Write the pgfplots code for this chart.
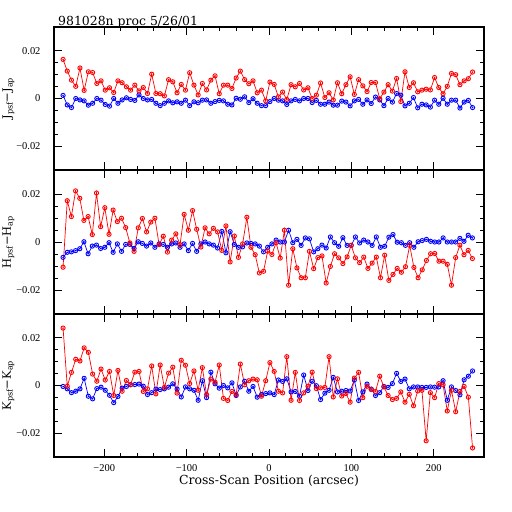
\documentclass[border=0pt]{standalone}
\usepackage{fontspec}
\setmainfont{DejaVu Serif}
\newfontfamily\tickfont{Liberation Serif}
\usepackage{pgfplots}
\usepackage{pgfplotstable}
\pgfplotsset{compat=1.18}

\pgfplotstableread{
x r b
-250 0.0164 0.0013
-244.9 0.0115 -0.0027
-239.8 0.0077 -0.0038
-234.6 0.0051 0.0000
-229.5 0.0128 -0.0006
-224.4 0.0034 -0.0010
-219.3 0.0112 -0.0028
-214.1 0.0109 -0.0020
-209 0.0063 0.0000
-203.9 0.0074 -0.0007
-198.8 0.0035 -0.0025
-193.6 0.0045 -0.0032
-188.5 0.0025 0.0000
-183.4 0.0074 -0.0020
-178.3 0.0066 -0.0006
-173.1 0.0049 0.0003
-168 0.0035 -0.0004
-162.9 0.0056 -0.0008
-157.8 0.0032 0.0015
-152.6 0.0046 0.0000
-147.5 0.0021 -0.0006
-142.4 0.0102 -0.0004
-137.3 0.0021 -0.0020
-132.1 0.0020 -0.0030
-127 0.0011 -0.0020
-121.9 0.0079 -0.0010
-116.8 0.0070 -0.0018
-111.6 0.0024 -0.0014
-106.5 0.0059 -0.0020
-101.4 0.0035 -0.0007
-96.3 0.0108 -0.0030
-91.1 0.0056 -0.0014
-86 0.0015 -0.0018
-80.9 0.0063 -0.0007
-75.8 0.0036 -0.0006
-70.6 0.0077 -0.0020
-65.5 0.0095 -0.0013
-60.4 0.0020 -0.0008
-55.3 0.0056 -0.0010
-50.1 0.0056 -0.0024
-45 0.0042 -0.0027
-39.9 0.0086 0.0001
-34.8 0.0115 -0.0003
-29.6 0.0079 0.0007
-24.5 0.0062 -0.0017
-19.4 0.0074 -0.0001
-14.3 0.0024 -0.0020
-9.1 0.0035 -0.0030
-4 -0.0010 -0.0030
1.1 0.0069 -0.0013
6.3 0.0059 0.0000
11.4 0.0007 -0.0007
16.5 0.0027 -0.0010
21.6 -0.0004 -0.0025
26.8 0.0058 -0.0010
31.9 0.0049 -0.0004
37 0.0063 -0.0010
42.1 0.0036 0.0000
47.3 0.0045 0.0000
52.4 0.0000 -0.0017
57.5 0.0014 -0.0008
62.6 0.0065 -0.0024
67.8 0.0004 -0.0024
72.9 0.0024 -0.0015
78 -0.0006 -0.0028
83.1 0.0066 -0.0028
88.3 0.0020 -0.0011
93.4 0.0058 -0.0015
98.5 0.0091 -0.0031
103.6 0.0017 -0.0010
108.8 0.0079 -0.0004
113.9 0.0053 -0.0024
119 0.0029 -0.0006
124.1 0.0067 -0.0021
129.3 0.0067 0.0006
134.4 -0.0001 -0.0006
139.5 0.0027 -0.0030
144.6 0.0058 0.0000
149.8 0.0031 -0.0015
154.9 0.0084 0.0021
160 -0.0013 0.0014
165.1 0.0112 -0.0031
170.3 0.0046 -0.0020
175.4 0.0066 0.0004
180.5 0.0028 -0.0039
185.6 0.0035 -0.0024
190.8 0.0039 -0.0027
195.9 0.0036 -0.0036
201 0.0088 -0.0007
206.1 0.0046 -0.0024
211.3 0.0020 0.0001
216.4 0.0051 -0.0024
221.5 0.0105 -0.0007
226.6 0.0100 -0.0007
231.8 0.0058 -0.0040
236.9 0.0074 -0.0015
242 0.0083 -0.0008
247.1 0.0111 -0.0038
}\topdata

\pgfplotstableread{
x r b
-250.0 -0.0105 -0.0064
-244.9 0.0172 -0.0043
-239.9 0.0106 -0.0041
-234.8 0.0213 -0.0036
-229.7 0.0182 -0.0028
-224.7 0.0090 0.0001
-219.6 0.0106 -0.0049
-214.5 0.0031 -0.0017
-209.4 0.0204 -0.0013
-204.4 0.0064 -0.0027
-199.3 0.0143 -0.0022
-194.2 0.0032 -0.0003
-189.2 0.0133 -0.0043
-184.1 0.0085 -0.0008
-179.0 0.0099 -0.0039
-174.0 0.0060 -0.0010
-168.9 -0.0004 -0.0010
-163.8 -0.0039 -0.0027
-158.7 0.0059 0.0001
-153.7 0.0098 -0.0006
-148.6 0.0042 -0.0017
-143.5 0.0083 -0.0004
-138.5 0.0099 -0.0022
-133.4 -0.0011 -0.0008
-128.3 0.0024 -0.0010
-123.3 -0.0042 -0.0022
-118.2 0.0008 -0.0008
-113.1 0.0034 -0.0004
-108.0 -0.0011 -0.0022
-103.0 0.0115 -0.0008
-97.9 0.0049 -0.0036
-92.8 0.0131 -0.0006
-87.8 0.0053 -0.0039
-82.7 -0.0021 -0.0008
-77.6 0.0059 0.0000
-72.6 0.0034 -0.0008
-67.5 0.0057 -0.0013
-62.4 0.0042 -0.0025
-57.3 -0.0035 0.0044
-52.3 0.0067 -0.0045
-47.2 -0.0083 0.0043
-42.1 0.0025 -0.0010
-37.1 -0.0064 -0.0022
-32.0 -0.0008 -0.0020
-26.9 0.0103 -0.0004
-21.9 -0.0022 -0.0006
-16.8 -0.0053 -0.0008
-11.7 -0.0129 -0.0017
-6.6 -0.0122 -0.0041
-1.6 -0.0038 -0.0022
3.5 -0.0052 -0.0008
8.6 -0.0003 0.0008
13.6 -0.0067 0.0000
18.7 0.0049 0.0000
23.8 -0.0180 0.0049
28.9 -0.0028 -0.0003
33.9 -0.0108 0.0011
39.0 -0.0149 -0.0014
44.1 -0.0149 0.0017
49.1 -0.0039 0.0013
54.2 -0.0111 -0.0041
59.3 -0.0065 -0.0028
64.3 -0.0058 -0.0013
69.4 -0.0171 -0.0025
74.5 -0.0102 0.0021
79.6 -0.0049 -0.0003
84.6 -0.0066 -0.0018
89.7 -0.0090 0.0018
94.8 -0.0062 -0.0014
99.8 -0.0014 -0.0014
104.9 -0.0066 0.0021
110.0 -0.0086 -0.0004
115.0 -0.0063 0.0008
120.1 -0.0110 0.0000
125.2 -0.0088 -0.0014
130.3 -0.0063 0.0021
135.3 -0.0149 -0.0022
140.4 -0.0055 -0.0018
145.5 -0.0160 0.0020
150.5 -0.0135 0.0031
155.6 -0.0110 -0.0001
160.7 -0.0126 -0.0003
165.7 -0.0103 -0.0014
170.8 -0.0014 -0.0003
175.9 -0.0106 -0.0022
181.0 -0.0149 0.0001
186.0 -0.0116 0.0006
191.1 -0.0077 0.0011
196.2 -0.0049 0.0003
201.2 -0.0048 0.0000
206.3 -0.0080 0.0000
211.4 -0.0080 0.0017
216.4 -0.0093 0.0000
221.5 -0.0180 0.0000
226.6 -0.0065 0.0000
231.7 -0.0013 0.0015
236.7 -0.0053 0.0003
241.8 -0.0035 0.0028
246.9 -0.0069 0.0017
}\middata

\pgfplotstableread{
x r b
-250 0.0241 -0.0004
-244.9 -0.0003 -0.0014
-239.8 0.0055 -0.0030
-234.6 0.0110 -0.0024
-229.5 0.0103 -0.0014
-224.4 0.0158 0.0030
-219.3 0.0139 -0.0045
-214.1 0.0048 -0.0056
-209 0.0018 -0.0013
-203.9 0.0069 -0.0007
-198.8 0.0023 -0.0020
-193.6 0.0059 -0.0041
-188.5 -0.0042 -0.0072
-183.4 0.0063 -0.0046
-178.3 -0.0024 -0.0011
-173.1 0.0021 -0.0004
-168 0.0004 0.0003
-162.9 0.0056 0.0004
-157.8 0.0059 0.0006
-152.6 -0.0025 -0.0003
-147.5 -0.0014 -0.0038
-142.4 0.0082 -0.0030
-137.3 -0.0035 -0.0015
-132.1 0.0086 -0.0017
-127 -0.0008 -0.0014
-121.9 0.0052 -0.0007
-116.8 0.0077 0.0007
-111.6 -0.0032 -0.0015
-106.5 0.0106 -0.0048
-101.4 0.0085 -0.0006
-96.3 0.0008 -0.0014
-91.1 0.0061 -0.0020
-86 -0.0020 -0.0062
-80.9 0.0075 0.0020
-75.8 -0.0038 -0.0051
-70.6 0.0027 0.0056
-65.5 0.0014 0.0007
-60.4 0.0086 -0.0011
-55.3 -0.0054 0.0000
-50.1 -0.0063 -0.0010
-45 -0.0025 0.0011
-39.9 -0.0038 -0.0042
-34.8 0.0090 -0.0006
-29.6 0.0003 0.0018
-24.5 0.0020 -0.0024
-19.4 0.0027 -0.0004
-14.3 0.0024 -0.0049
-9.1 -0.0045 -0.0038
-4 0.0020 -0.0034
1.1 0.0096 -0.0031
6.3 0.0059 -0.0038
11.4 -0.0024 0.0023
16.5 -0.0031 0.0017
21.6 0.0121 0.0028
26.8 -0.0062 -0.0027
31.9 0.0055 -0.0025
37 -0.0063 -0.0045
42.1 -0.0031 0.0044
47.3 -0.0003 -0.0021
52.4 0.0056 0.0018
57.5 -0.0013 -0.0001
62.6 -0.0010 -0.0059
67.8 -0.0008 -0.0032
72.9 0.0121 -0.0020
78 -0.0048 0.0034
83.1 0.0028 -0.0027
88.3 -0.0044 -0.0024
93.4 -0.0034 -0.0021
98.5 -0.0070 -0.0023
103.6 0.0031 0.0023
108.8 0.0055 -0.0063
113.9 -0.0051 -0.0027
119 -0.0003 0.0006
124.1 -0.0017 -0.0015
129.3 -0.0025 -0.0042
134.4 0.0039 -0.0030
139.5 -0.0006 -0.0004
144.6 -0.0042 -0.0008
149.8 -0.0059 0.0008
154.9 -0.0054 0.0051
160 -0.0027 0.0017
165.1 -0.0070 0.0027
170.3 -0.0037 -0.0014
175.4 -0.0085 -0.0006
180.5 -0.0023 -0.0006
185.6 -0.0020 -0.0008
190.8 -0.0232 -0.0008
195.9 -0.0030 -0.0006
201 -0.0051 -0.0007
206.1 0.0008 -0.0006
211.3 0.0003 0.0020
216.4 -0.0107 -0.0062
221.5 -0.0020 -0.0006
226.6 -0.0110 -0.0021
231.8 -0.0025 -0.0039
236.9 -0.0004 0.0024
242 -0.0049 0.0039
247.1 -0.0262 0.0061
}\botdata

\pgfplotsset{
  panel/.style={
    scale only axis, width=430bp, height=143bp,
    anchor=south west,
    xmin=-261, xmax=261, ymin=-0.03, ymax=0.03,
    xtick={-200,-100,0,100,200}, minor x tick num=4,
    ytick={-0.02,0,0.02}, minor y tick num=3,
    yticklabels={−0.02,0,0.02},
    scaled y ticks=false, scaled x ticks=false,
    tick align=inside,
    major tick length=8bp, minor tick length=4bp,
    axis line style={line width=1.1bp},
    every tick/.style={black, line width=0.8bp},
    tick label style={font=\tickfont\fontsize{10.5}{12}\selectfont},
    yticklabel style={xshift=-10bp},
    xticklabel style={yshift=-4bp},
    every axis y label/.style={at={(axis description cs:-0.106,0.5)}, rotate=90, anchor=center, font=\fontsize{11.5}{13}\selectfont},
    every axis x label/.style={at={(axis description cs:0.5,0)}, anchor=base, yshift=-27bp, font=\fontsize{12.5}{14}\selectfont},
    clip=false,
  },
  redser/.style={red, line width=0.7bp, mark=o, mark size=2.1bp, mark options={line width=0.9bp}},
  blueser/.style={blue, line width=0.7bp, mark=o, mark size=2.1bp, mark options={line width=0.9bp}},
  dotr/.style={red, only marks, mark=*, mark size=0.5bp},
  dotb/.style={blue, only marks, mark=*, mark size=0.5bp},
}

\begin{document}
\begin{tikzpicture}[x=1bp,y=1bp]
\begin{axis}[panel, at={(54bp,342bp)}, xticklabels={}, ylabel={J\textsubscript{psf}−J\textsubscript{ap}}]
\addplot[blueser] table[x=x,y=b]{\topdata};
\addplot[dotb] table[x=x,y=b]{\topdata};
\addplot[redser] table[x=x,y=r]{\topdata};
\addplot[dotr] table[x=x,y=r]{\topdata};
\end{axis}
\begin{axis}[panel, at={(54bp,198bp)}, height=144bp, xticklabels={}, ylabel={H\textsubscript{psf}−H\textsubscript{ap}}]
\addplot[blueser] table[x=x,y=b]{\middata};
\addplot[dotb] table[x=x,y=b]{\middata};
\addplot[redser] table[x=x,y=r]{\middata};
\addplot[dotr] table[x=x,y=r]{\middata};
\end{axis}
\begin{axis}[panel, at={(54bp,55bp)}, xticklabels={−200,−100,0,100,200},
  xlabel={Cross-Scan Position (arcsec)},
  ylabel={K\textsubscript{psf}−K\textsubscript{ap}}]
\addplot[blueser] table[x=x,y=b]{\botdata};
\addplot[dotb] table[x=x,y=b]{\botdata};
\addplot[redser] table[x=x,y=r]{\botdata};
\addplot[dotr] table[x=x,y=r]{\botdata};
\end{axis}
\node[anchor=base west, inner sep=0pt, font=\fontsize{12.5}{14}\selectfont] at (58bp,486bp) {981028n proc 5/26/01};
\pgfresetboundingbox
\useasboundingbox (0,0) rectangle (512bp,512bp);
\end{tikzpicture}
\end{document}
